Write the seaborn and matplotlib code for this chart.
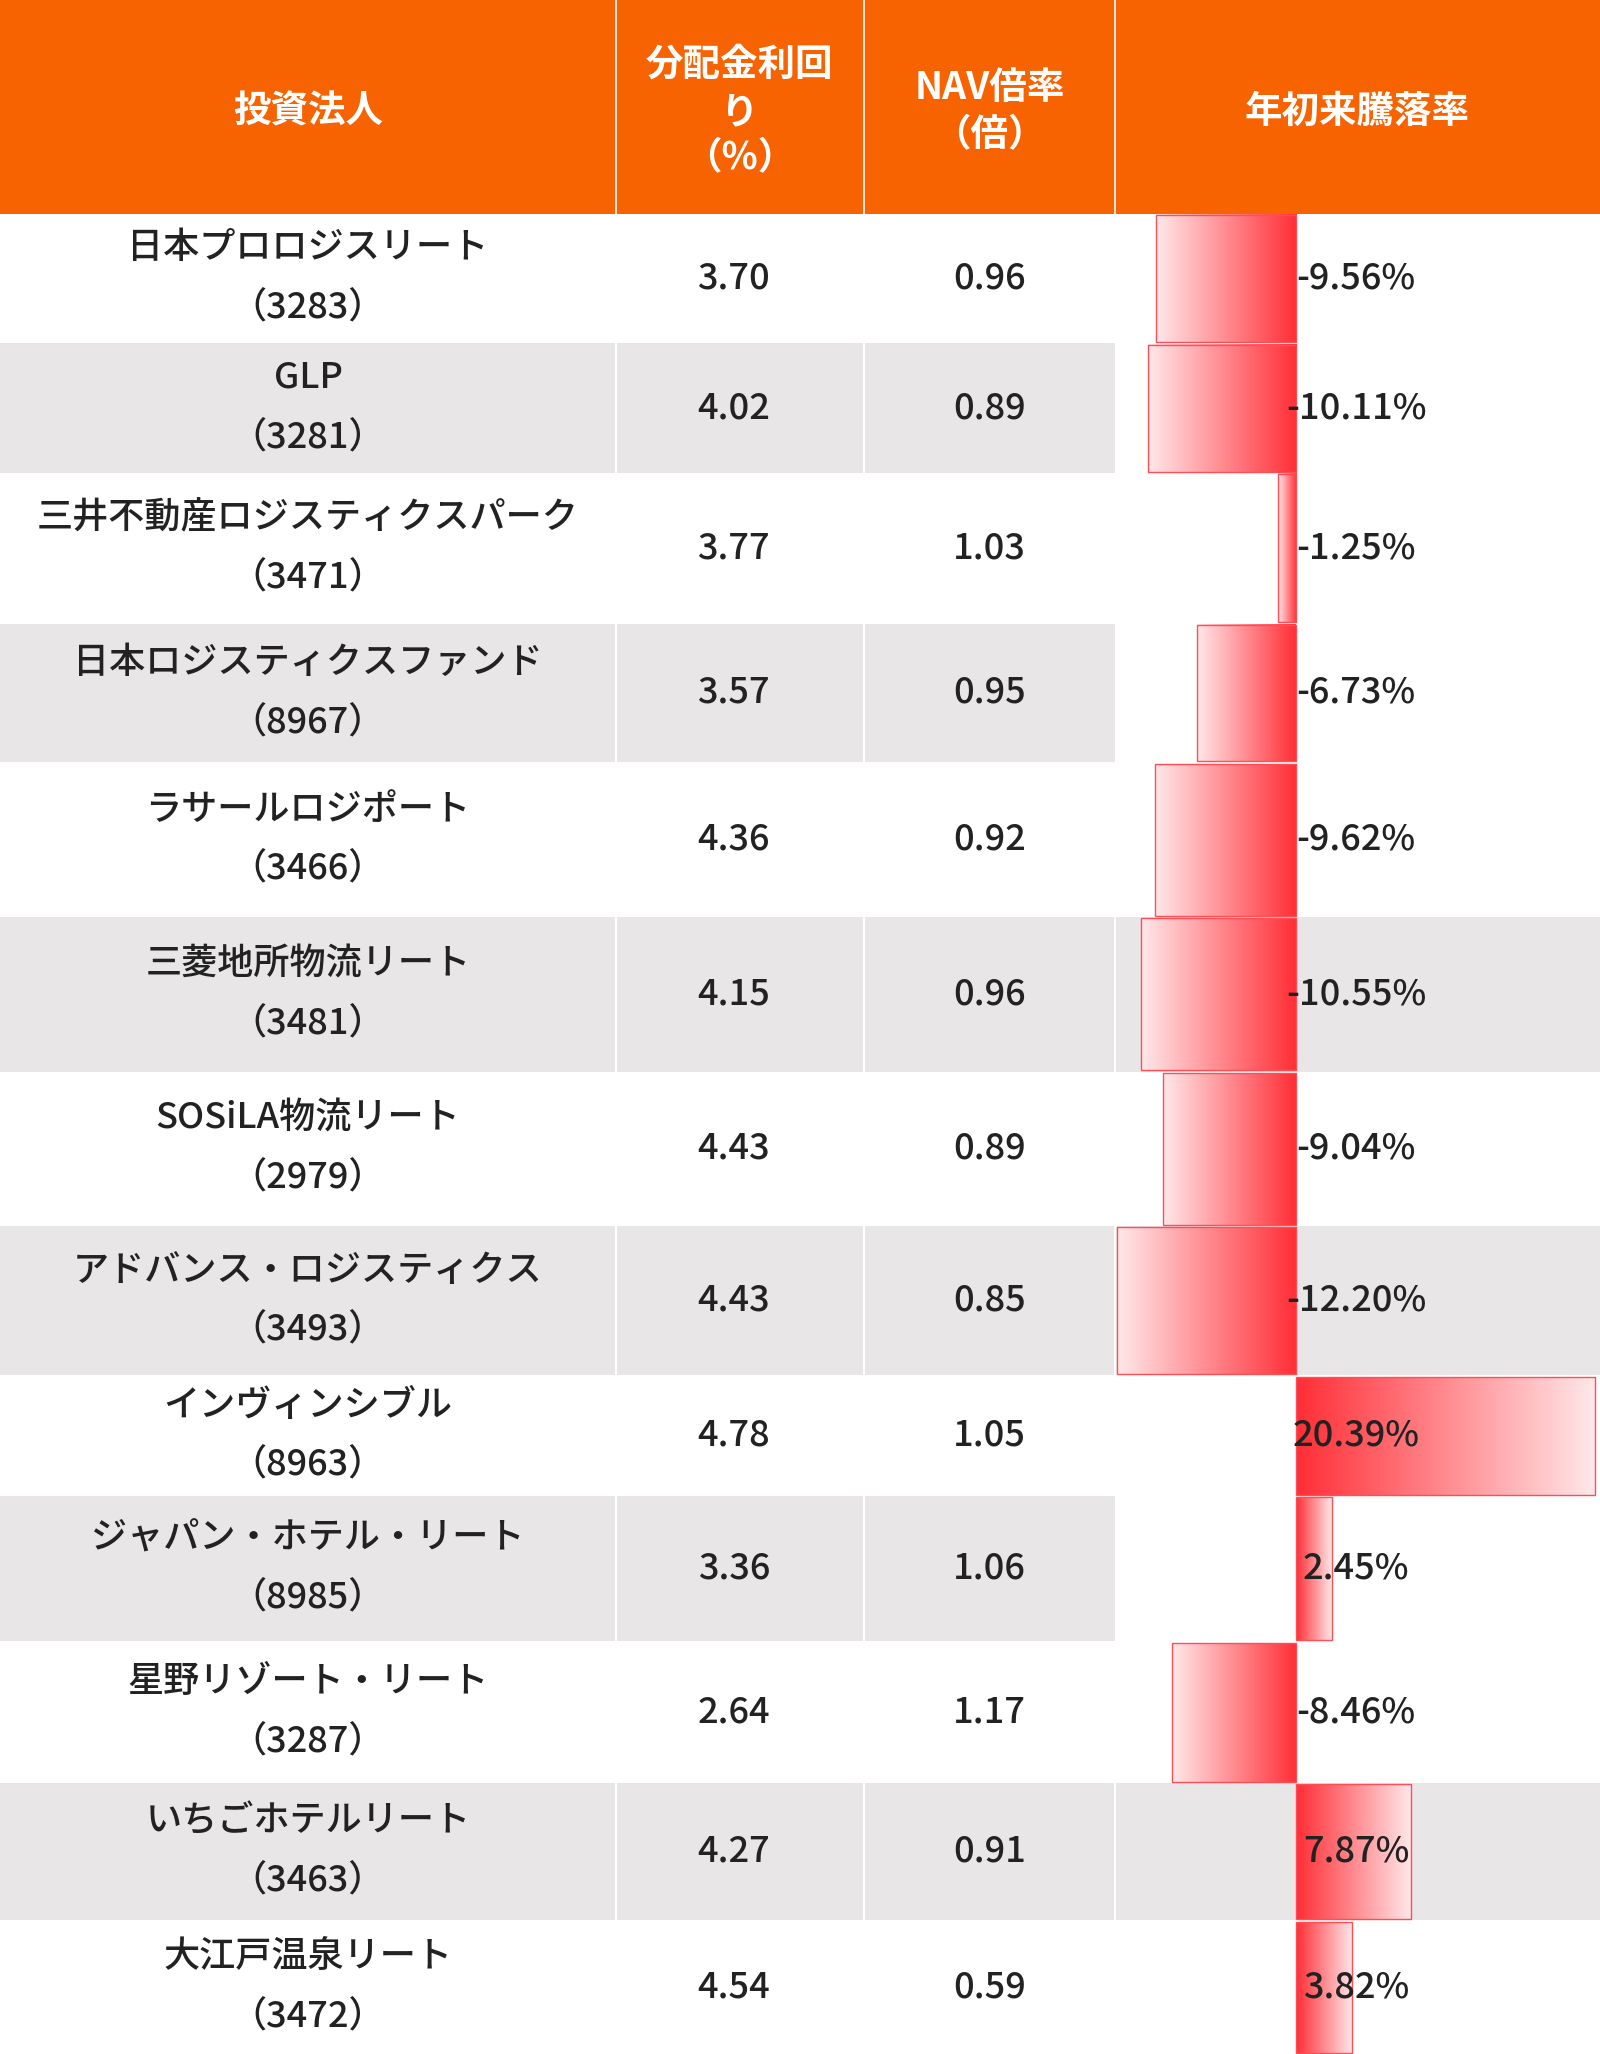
import matplotlib
matplotlib.use("Agg")
import matplotlib.pyplot as plt
import numpy as np
import seaborn as sns

sns.set_style("white")
plt.rcParams["font.family"] = "Noto Sans CJK JP"

names = ["日本プロロジスリート", "GLP", "三井不動産ロジスティクスパーク", "日本ロジスティクスファンド",
         "ラサールロジポート", "三菱地所物流リート", "SOSiLA物流リート", "アドバンス・ロジスティクス",
         "インヴィンシブル", "ジャパン・ホテル・リート", "星野リゾート・リート", "いちごホテルリート",
         "大江戸温泉リート"]
codes = ["3283", "3281", "3471", "8967", "3466", "3481", "2979", "3493", "8963", "8985", "3287", "3463", "3472"]
yields = [3.70, 4.02, 3.77, 3.57, 4.36, 4.15, 4.43, 4.43, 4.78, 3.36, 2.64, 4.27, 4.54]
nav = [0.96, 0.89, 1.03, 0.95, 0.92, 0.96, 0.89, 0.85, 1.05, 1.06, 1.17, 0.91, 0.59]
ytd = [-9.56, -10.11, -1.25, -6.73, -9.62, -10.55, -9.04, -12.20, 20.39, 2.45, -8.46, 7.87, 3.82]
headers = ["投資法人", "分配金利回\nり\n（%）", "NAV倍率\n（倍）", "年初来騰落率"]

# layout (reference display units)
W, H = 1221, 1568
col_edges = [0, 470, 659, 851, W]
row_edges = [163, 262, 361, 476, 582, 700, 818, 936, 1050, 1142, 1253, 1361, 1466, 1568]
zero_x, px_per_pct = 989, 11.2
ORANGE = "#f76300"
GREY = "#e8e6e7"
full_shade = {5, 7, 11}
FS = 26

fig = plt.figure(figsize=(16, 20.54), dpi=100)
ax = fig.add_axes([0, 0, 1, 1])
ax.set_xlim(0, W)
ax.set_ylim(H, 0)
ax.axis("off")

# header
ax.add_patch(plt.Rectangle((0, 0), W, 163, color=ORANGE, lw=0))
for i in range(1, 4):
    ax.plot([col_edges[i]] * 2, [0, 163], color="white", lw=1.2)
for i, h in enumerate(headers):
    ax.text((col_edges[i] + col_edges[i + 1]) / 2, 85, h, color="white", fontsize=27,
            fontweight="bold", ha="center", va="center", linespacing=1.25)

grad = np.linspace(0, 1, 256).reshape(1, -1)
cmap = matplotlib.colors.LinearSegmentedColormap.from_list("g", ["#ffe8ea", "#ff2e36"])

for r in range(len(names)):
    y0, y1 = row_edges[r], row_edges[r + 1]
    yc = (y0 + y1) / 2
    if r % 2 == 1:
        right = W if r in full_shade else col_edges[3]
        ax.add_patch(plt.Rectangle((0, y0), right, y1 - y0, color=GREY, lw=0))
        for i in (1, 2, 3):
            if col_edges[i] < right:
                ax.plot([col_edges[i]] * 2, [y0, y1], color="white", lw=1.5)
    kw = dict(fontsize=FS, ha="center", va="center", color="#222", fontweight="medium")
    ax.text(235, yc - 23, names[r], **kw)
    ax.text(235, yc + 23, f"（{codes[r]}）", **kw)
    ax.text(560, yc, f"{yields[r]:.2f}", **kw)
    ax.text(755, yc, f"{nav[r]:.2f}", **kw)

    v = ytd[r]
    x_end = zero_x + v * px_per_pct
    xa, xb = min(zero_x, x_end), max(zero_x, x_end)
    g = grad if v < 0 else grad[:, ::-1]
    ax.imshow(g, cmap=cmap, aspect="auto", extent=(xa, xb, y1 - 1, y0 + 1), zorder=2)
    ax.add_patch(plt.Rectangle((xa, y0 + 1), xb - xa, y1 - y0 - 2, fill=False,
                               ec="#ff4d55", lw=1, zorder=3))
    ax.text(1035, yc, f"{v:.2f}%", zorder=4, **kw)

fig.savefig("out.png", dpi=100)
